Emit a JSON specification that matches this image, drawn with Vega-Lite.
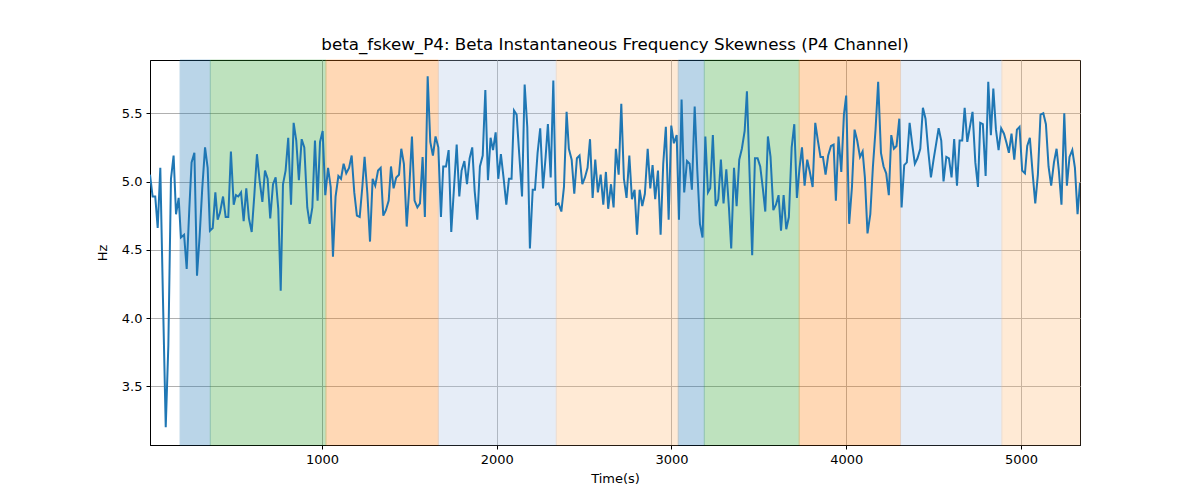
{
  "$schema": "https://vega.github.io/schema/vega-lite/v6.json",
  "width": 930,
  "height": 385,
  "autosize": {"type": "none"},
  "padding": {"left": 150, "top": 60, "right": 120, "bottom": 55},
  "background": "white",
  "title": {
    "text": "beta_fskew_P4: Beta Instantaneous Frequency Skewness (P4 Channel)",
    "font": "DejaVu Sans",
    "fontSize": 16.7,
    "fontWeight": "normal",
    "color": "black",
    "anchor": "middle",
    "offset": 6
  },
  "config": {
    "view": {"stroke": "black", "strokeWidth": 1},
    "axis": {
      "labelFont": "DejaVu Sans",
      "labelFontSize": 13,
      "labelColor": "black",
      "titleFont": "DejaVu Sans",
      "titleFontSize": 13,
      "titleFontWeight": "normal",
      "titleColor": "black",
      "tickColor": "black",
      "tickSize": 4,
      "domainColor": "black",
      "gridColor": "#b0b0b0",
      "gridWidth": 1,
      "labelPadding": 4
    }
  },
  "datasets": {
    "bands": [
      {"start": 188, "end": 361, "state": "S1"},
      {"start": 361, "end": 1023, "state": "S2"},
      {"start": 1023, "end": 1666, "state": "S3"},
      {"start": 1666, "end": 2341, "state": "S4"},
      {"start": 2341, "end": 3039, "state": "S5"},
      {"start": 3039, "end": 3188, "state": "S1"},
      {"start": 3188, "end": 3731, "state": "S2"},
      {"start": 3731, "end": 4311, "state": "S3"},
      {"start": 4311, "end": 4891, "state": "S4"},
      {"start": 4891, "end": 5338, "state": "S5"}
    ],
    "series": [
      {"t": 16, "v": 5.05}, {"t": 31, "v": 4.89}, {"t": 46, "v": 4.89}, {"t": 60, "v": 4.66}, {"t": 75, "v": 5.10},
      {"t": 90, "v": 4.15}, {"t": 106, "v": 3.20}, {"t": 121, "v": 3.80}, {"t": 136, "v": 5.02}, {"t": 151, "v": 5.19},
      {"t": 165, "v": 4.76}, {"t": 180, "v": 4.88}, {"t": 193, "v": 4.59}, {"t": 211, "v": 4.61}, {"t": 226, "v": 4.36},
      {"t": 241, "v": 4.80}, {"t": 254, "v": 5.14}, {"t": 270, "v": 5.21}, {"t": 285, "v": 4.31}, {"t": 300, "v": 4.60},
      {"t": 315, "v": 4.95}, {"t": 331, "v": 5.25}, {"t": 346, "v": 5.10}, {"t": 359, "v": 4.64}, {"t": 375, "v": 4.66},
      {"t": 390, "v": 4.92}, {"t": 403, "v": 4.72}, {"t": 416, "v": 4.77}, {"t": 434, "v": 4.89}, {"t": 449, "v": 4.74},
      {"t": 464, "v": 4.74}, {"t": 479, "v": 5.22}, {"t": 495, "v": 4.83}, {"t": 508, "v": 4.90}, {"t": 521, "v": 4.89},
      {"t": 537, "v": 4.92}, {"t": 552, "v": 4.71}, {"t": 567, "v": 4.95}, {"t": 582, "v": 4.73}, {"t": 598, "v": 4.63},
      {"t": 613, "v": 4.90}, {"t": 628, "v": 5.20}, {"t": 643, "v": 5.01}, {"t": 659, "v": 4.85}, {"t": 674, "v": 5.08},
      {"t": 689, "v": 5.02}, {"t": 704, "v": 4.73}, {"t": 720, "v": 4.98}, {"t": 735, "v": 5.03}, {"t": 750, "v": 4.80},
      {"t": 764, "v": 4.20}, {"t": 777, "v": 4.98}, {"t": 792, "v": 5.08}, {"t": 807, "v": 5.32}, {"t": 823, "v": 4.83},
      {"t": 838, "v": 5.43}, {"t": 853, "v": 5.30}, {"t": 868, "v": 5.01}, {"t": 884, "v": 5.31}, {"t": 899, "v": 5.25},
      {"t": 916, "v": 4.81}, {"t": 930, "v": 4.69}, {"t": 945, "v": 4.81}, {"t": 960, "v": 5.30}, {"t": 975, "v": 4.86},
      {"t": 989, "v": 5.29}, {"t": 1004, "v": 5.37}, {"t": 1019, "v": 4.90}, {"t": 1035, "v": 5.10}, {"t": 1050, "v": 4.96},
      {"t": 1063, "v": 4.45}, {"t": 1078, "v": 4.89}, {"t": 1094, "v": 5.04}, {"t": 1109, "v": 5.02}, {"t": 1124, "v": 5.13},
      {"t": 1139, "v": 5.06}, {"t": 1155, "v": 5.10}, {"t": 1170, "v": 5.19}, {"t": 1185, "v": 4.92}, {"t": 1200, "v": 4.75},
      {"t": 1216, "v": 4.74}, {"t": 1231, "v": 4.96}, {"t": 1244, "v": 5.18}, {"t": 1260, "v": 4.91}, {"t": 1275, "v": 4.56},
      {"t": 1290, "v": 5.02}, {"t": 1305, "v": 4.97}, {"t": 1321, "v": 5.08}, {"t": 1336, "v": 5.10}, {"t": 1351, "v": 4.75},
      {"t": 1366, "v": 4.79}, {"t": 1382, "v": 4.86}, {"t": 1395, "v": 5.11}, {"t": 1410, "v": 4.95}, {"t": 1425, "v": 5.03},
      {"t": 1441, "v": 5.05}, {"t": 1454, "v": 5.24}, {"t": 1469, "v": 5.13}, {"t": 1485, "v": 4.67}, {"t": 1500, "v": 4.96},
      {"t": 1515, "v": 5.33}, {"t": 1530, "v": 4.86}, {"t": 1546, "v": 4.81}, {"t": 1561, "v": 4.84}, {"t": 1576, "v": 5.18},
      {"t": 1589, "v": 4.74}, {"t": 1605, "v": 5.77}, {"t": 1620, "v": 5.29}, {"t": 1635, "v": 5.19}, {"t": 1650, "v": 5.33},
      {"t": 1666, "v": 5.25}, {"t": 1681, "v": 4.74}, {"t": 1694, "v": 5.11}, {"t": 1710, "v": 5.11}, {"t": 1725, "v": 5.23},
      {"t": 1740, "v": 4.63}, {"t": 1755, "v": 4.94}, {"t": 1771, "v": 5.27}, {"t": 1786, "v": 4.89}, {"t": 1799, "v": 5.08},
      {"t": 1815, "v": 5.15}, {"t": 1830, "v": 4.98}, {"t": 1845, "v": 5.17}, {"t": 1860, "v": 5.25}, {"t": 1874, "v": 4.93},
      {"t": 1889, "v": 4.72}, {"t": 1904, "v": 5.11}, {"t": 1920, "v": 5.19}, {"t": 1935, "v": 5.67}, {"t": 1950, "v": 5.01},
      {"t": 1965, "v": 5.32}, {"t": 1979, "v": 5.23}, {"t": 1994, "v": 5.36}, {"t": 2009, "v": 5.02}, {"t": 2024, "v": 5.20},
      {"t": 2040, "v": 5.02}, {"t": 2055, "v": 4.83}, {"t": 2070, "v": 5.02}, {"t": 2085, "v": 5.02}, {"t": 2099, "v": 5.52},
      {"t": 2114, "v": 5.49}, {"t": 2129, "v": 5.20}, {"t": 2145, "v": 4.89}, {"t": 2160, "v": 5.71}, {"t": 2175, "v": 5.40},
      {"t": 2190, "v": 4.51}, {"t": 2206, "v": 4.94}, {"t": 2219, "v": 4.94}, {"t": 2234, "v": 5.21}, {"t": 2249, "v": 5.39},
      {"t": 2265, "v": 4.95}, {"t": 2280, "v": 5.18}, {"t": 2293, "v": 5.42}, {"t": 2309, "v": 5.03}, {"t": 2324, "v": 5.74},
      {"t": 2339, "v": 4.83}, {"t": 2354, "v": 4.84}, {"t": 2370, "v": 4.78}, {"t": 2385, "v": 4.96}, {"t": 2400, "v": 5.51},
      {"t": 2413, "v": 5.24}, {"t": 2429, "v": 5.16}, {"t": 2444, "v": 4.91}, {"t": 2459, "v": 5.17}, {"t": 2474, "v": 5.19},
      {"t": 2490, "v": 4.98}, {"t": 2505, "v": 5.03}, {"t": 2520, "v": 5.10}, {"t": 2534, "v": 5.31}, {"t": 2549, "v": 4.88},
      {"t": 2564, "v": 5.16}, {"t": 2579, "v": 4.92}, {"t": 2595, "v": 5.05}, {"t": 2610, "v": 4.83}, {"t": 2625, "v": 5.07},
      {"t": 2638, "v": 4.80}, {"t": 2654, "v": 4.98}, {"t": 2669, "v": 4.81}, {"t": 2682, "v": 5.24}, {"t": 2698, "v": 5.05},
      {"t": 2713, "v": 5.57}, {"t": 2728, "v": 5.02}, {"t": 2743, "v": 4.88}, {"t": 2759, "v": 5.19}, {"t": 2774, "v": 4.87},
      {"t": 2789, "v": 4.94}, {"t": 2803, "v": 4.61}, {"t": 2818, "v": 4.94}, {"t": 2833, "v": 4.82}, {"t": 2848, "v": 4.91},
      {"t": 2864, "v": 5.24}, {"t": 2879, "v": 4.95}, {"t": 2892, "v": 5.12}, {"t": 2907, "v": 4.87}, {"t": 2923, "v": 5.08},
      {"t": 2938, "v": 4.61}, {"t": 2953, "v": 5.13}, {"t": 2968, "v": 5.40}, {"t": 2984, "v": 4.72}, {"t": 2999, "v": 5.41},
      {"t": 3014, "v": 5.28}, {"t": 3030, "v": 5.34}, {"t": 3043, "v": 4.72}, {"t": 3058, "v": 5.60}, {"t": 3073, "v": 4.92},
      {"t": 3089, "v": 5.15}, {"t": 3104, "v": 5.13}, {"t": 3117, "v": 4.94}, {"t": 3133, "v": 5.55}, {"t": 3148, "v": 5.08},
      {"t": 3163, "v": 4.69}, {"t": 3178, "v": 4.59}, {"t": 3194, "v": 5.33}, {"t": 3209, "v": 4.92}, {"t": 3222, "v": 4.95},
      {"t": 3237, "v": 5.34}, {"t": 3253, "v": 4.82}, {"t": 3268, "v": 4.87}, {"t": 3283, "v": 5.16}, {"t": 3298, "v": 4.84},
      {"t": 3314, "v": 5.09}, {"t": 3329, "v": 4.81}, {"t": 3342, "v": 4.51}, {"t": 3358, "v": 5.10}, {"t": 3373, "v": 4.82},
      {"t": 3388, "v": 5.16}, {"t": 3403, "v": 5.24}, {"t": 3419, "v": 5.37}, {"t": 3432, "v": 5.66}, {"t": 3447, "v": 5.06},
      {"t": 3462, "v": 4.46}, {"t": 3478, "v": 5.17}, {"t": 3493, "v": 5.17}, {"t": 3508, "v": 5.11}, {"t": 3523, "v": 4.95},
      {"t": 3537, "v": 4.78}, {"t": 3552, "v": 5.33}, {"t": 3567, "v": 5.18}, {"t": 3583, "v": 4.79}, {"t": 3598, "v": 4.83},
      {"t": 3613, "v": 4.90}, {"t": 3627, "v": 4.64}, {"t": 3642, "v": 4.90}, {"t": 3657, "v": 4.65}, {"t": 3672, "v": 4.74},
      {"t": 3688, "v": 5.25}, {"t": 3703, "v": 5.42}, {"t": 3718, "v": 4.88}, {"t": 3733, "v": 5.10}, {"t": 3747, "v": 5.25},
      {"t": 3762, "v": 4.97}, {"t": 3777, "v": 5.16}, {"t": 3792, "v": 5.07}, {"t": 3808, "v": 4.96}, {"t": 3823, "v": 5.43},
      {"t": 3838, "v": 5.30}, {"t": 3853, "v": 5.18}, {"t": 3867, "v": 5.18}, {"t": 3882, "v": 5.05}, {"t": 3897, "v": 5.19},
      {"t": 3913, "v": 5.26}, {"t": 3928, "v": 5.27}, {"t": 3941, "v": 4.86}, {"t": 3956, "v": 5.33}, {"t": 3972, "v": 5.07},
      {"t": 3987, "v": 5.49}, {"t": 4000, "v": 5.63}, {"t": 4017, "v": 4.69}, {"t": 4033, "v": 4.96}, {"t": 4048, "v": 5.38},
      {"t": 4063, "v": 5.30}, {"t": 4079, "v": 5.18}, {"t": 4094, "v": 5.22}, {"t": 4107, "v": 5.03}, {"t": 4122, "v": 4.62},
      {"t": 4138, "v": 4.76}, {"t": 4153, "v": 5.11}, {"t": 4168, "v": 5.38}, {"t": 4183, "v": 5.73}, {"t": 4199, "v": 5.21},
      {"t": 4214, "v": 5.11}, {"t": 4229, "v": 5.06}, {"t": 4244, "v": 4.90}, {"t": 4258, "v": 5.34}, {"t": 4273, "v": 5.24},
      {"t": 4288, "v": 5.26}, {"t": 4304, "v": 5.46}, {"t": 4317, "v": 4.81}, {"t": 4332, "v": 5.12}, {"t": 4347, "v": 5.14},
      {"t": 4363, "v": 5.43}, {"t": 4378, "v": 5.27}, {"t": 4393, "v": 5.13}, {"t": 4408, "v": 5.17}, {"t": 4424, "v": 5.24},
      {"t": 4439, "v": 5.54}, {"t": 4454, "v": 5.46}, {"t": 4470, "v": 5.22}, {"t": 4485, "v": 5.03}, {"t": 4500, "v": 5.16},
      {"t": 4514, "v": 5.27}, {"t": 4529, "v": 5.39}, {"t": 4544, "v": 5.30}, {"t": 4557, "v": 5.00}, {"t": 4573, "v": 5.18},
      {"t": 4588, "v": 5.17}, {"t": 4603, "v": 5.03}, {"t": 4618, "v": 5.31}, {"t": 4634, "v": 4.97}, {"t": 4649, "v": 5.30},
      {"t": 4664, "v": 5.30}, {"t": 4678, "v": 5.54}, {"t": 4693, "v": 5.29}, {"t": 4708, "v": 5.40}, {"t": 4723, "v": 5.51},
      {"t": 4739, "v": 5.14}, {"t": 4754, "v": 4.96}, {"t": 4767, "v": 5.43}, {"t": 4782, "v": 5.42}, {"t": 4798, "v": 5.04},
      {"t": 4813, "v": 5.73}, {"t": 4828, "v": 5.34}, {"t": 4842, "v": 5.68}, {"t": 4857, "v": 5.38}, {"t": 4872, "v": 5.23},
      {"t": 4887, "v": 5.39}, {"t": 4903, "v": 5.35}, {"t": 4918, "v": 5.28}, {"t": 4931, "v": 5.21}, {"t": 4946, "v": 5.35},
      {"t": 4962, "v": 5.16}, {"t": 4977, "v": 5.38}, {"t": 4992, "v": 5.40}, {"t": 5007, "v": 5.08}, {"t": 5023, "v": 5.06},
      {"t": 5036, "v": 5.26}, {"t": 5051, "v": 5.32}, {"t": 5067, "v": 5.06}, {"t": 5082, "v": 4.84}, {"t": 5097, "v": 5.05},
      {"t": 5112, "v": 5.49}, {"t": 5128, "v": 5.50}, {"t": 5143, "v": 5.42}, {"t": 5158, "v": 5.11}, {"t": 5173, "v": 4.97},
      {"t": 5189, "v": 5.14}, {"t": 5204, "v": 5.24}, {"t": 5217, "v": 5.08}, {"t": 5232, "v": 4.83}, {"t": 5248, "v": 5.50},
      {"t": 5263, "v": 4.97}, {"t": 5278, "v": 5.18}, {"t": 5294, "v": 5.23}, {"t": 5309, "v": 5.10}, {"t": 5324, "v": 4.76},
      {"t": 5338, "v": 4.99}
    ]
  },
  "layer": [
    {
      "data": {"name": "bands"},
      "mark": {"type": "rect", "opacity": 0.3, "strokeWidth": 1},
      "encoding": {
        "x": {
          "field": "start",
          "type": "quantitative",
          "scale": {"domain": [16, 5338], "nice": false, "zero": false},
          "axis": {
            "title": "Time(s)",
            "values": [1000, 2000, 3000, 4000, 5000],
            "format": "d",
            "titlePadding": 6
          }
        },
        "x2": {"field": "end"},
        "color": {
          "field": "state",
          "type": "nominal",
          "scale": {
            "domain": ["S1", "S2", "S3", "S4", "S5"],
            "range": ["#1f77b4", "#2ca02c", "#ff7f0e", "#aec7e8", "#ffbb78"]
          },
          "legend": null
        },
        "stroke": {
          "field": "state",
          "type": "nominal",
          "scale": {
            "domain": ["S1", "S2", "S3", "S4", "S5"],
            "range": ["#1f77b4", "#2ca02c", "#ff7f0e", "#aec7e8", "#ffbb78"]
          },
          "legend": null
        }
      }
    },
    {
      "data": {"name": "series"},
      "mark": {"type": "line", "color": "#1f77b4", "strokeWidth": 2, "clip": true},
      "encoding": {
        "x": {"field": "t", "type": "quantitative"},
        "y": {
          "field": "v",
          "type": "quantitative",
          "scale": {"domain": [3.07, 5.89], "nice": false, "zero": false},
          "axis": {
            "title": "Hz",
            "values": [3.5, 4.0, 4.5, 5.0, 5.5],
            "format": ".1f",
            "titlePadding": 12
          }
        }
      }
    }
  ]
}
